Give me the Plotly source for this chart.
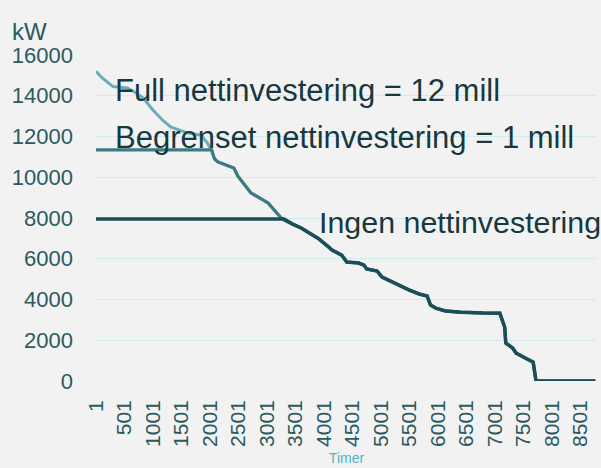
import plotly.graph_objects as go

# Hours (duration curve) and load in kW for each scenario
full_hours = [1, 100, 300, 550, 700, 830, 1000, 1165, 1310, 1610, 1840, 1950, 2030, 2080, 2140,
              2420, 2490, 2720, 3020, 3250, 3300, 3450, 3600, 3750, 3900, 4080, 4140, 4310, 4400,
              4610, 4700, 4750, 4930, 5020, 5190, 5320, 5490, 5670, 5810, 5870, 5960, 6130, 6400,
              6790, 7085, 7170, 7190, 7310, 7370, 7530, 7670, 7720, 8760]
full_kw = [15200, 14900, 14450, 14380, 14150, 13890, 13300, 12810, 12470, 12170, 12070, 11700, 11300, 10900, 10750,
           10450, 10050, 9230, 8740, 8000, 7900, 7700, 7510, 7250, 7000, 6580, 6430, 6180, 5840,
           5790, 5690, 5500, 5400, 5100, 4860, 4710, 4470, 4270, 4170, 3730, 3580, 3440, 3380,
           3340, 3330, 2650, 1860, 1620, 1370, 1130, 930, 0, 0]

begrenset_hours = [1, 2030, 2080, 2140, 2420, 2490, 2720, 3020, 3250, 3300, 3450, 3600, 3750, 3900, 4080,
                   4140, 4310, 4400, 4610, 4700, 4750, 4930, 5020, 5190, 5320, 5490, 5670, 5810, 5870,
                   5960, 6130, 6400, 6790, 7085, 7170, 7190, 7310, 7370, 7530, 7670, 7720, 8760]
begrenset_kw = [11340, 11340, 10900, 10750, 10450, 10050, 9230, 8740, 8000, 7900, 7700, 7510, 7250, 7000, 6580,
                6430, 6180, 5840, 5790, 5690, 5500, 5400, 5100, 4860, 4710, 4470, 4270, 4170, 3730,
                3580, 3440, 3380, 3340, 3330, 2650, 1860, 1620, 1370, 1130, 930, 0, 0]

ingen_hours = [1, 3300, 3450, 3600, 3750, 3900, 4080, 4140, 4310, 4400, 4610, 4700, 4750, 4930, 5020,
               5190, 5320, 5490, 5670, 5810, 5870, 5960, 6130, 6400, 6790, 7085, 7170, 7190, 7310,
               7370, 7530, 7670, 7720, 8760]
ingen_kw = [7950, 7950, 7700, 7510, 7250, 7000, 6580, 6430, 6180, 5840, 5790, 5690, 5500, 5400, 5100,
            4860, 4710, 4470, 4270, 4170, 3730, 3580, 3440, 3380, 3340, 3330, 2650, 1860, 1620,
            1370, 1130, 930, 0, 0]

x_ticks = list(range(1, 8760, 500))
x_tick_labels = [str(v) for v in x_ticks]
y_ticks = [0, 2000, 4000, 6000, 8000, 10000, 12000, 14000, 16000]
y_tick_labels = [str(v) for v in y_ticks]

labels = ["Full nettinvestering = 12 mill", "Begrenset nettinvestering = 1 mill", "Ingen nettinvestering"]

FONT = "Liberation Sans, Arial, sans-serif"
BG = "#f2f2f2"

fig = go.Figure()
fig.add_trace(go.Scatter(x=full_hours, y=full_kw, mode="lines",
                         line=dict(color="#6aadb7", width=3), name=labels[0], hoverinfo="skip"))
fig.add_trace(go.Scatter(x=begrenset_hours, y=begrenset_kw, mode="lines",
                         line=dict(color="#3c7b82", width=3.2), name=labels[1], hoverinfo="skip"))
fig.add_trace(go.Scatter(x=ingen_hours, y=ingen_kw, mode="lines",
                         line=dict(color="#1b4f56", width=3.5), name=labels[2], hoverinfo="skip"))

ann_font = dict(family=FONT, size=31, color="#17393e")
fig.add_annotation(x=0.034, xref="paper", y=14280, yref="y", text=labels[0], showarrow=False,
                   xanchor="left", yanchor="middle", font=ann_font)
fig.add_annotation(x=0.034, xref="paper", y=11975, yref="y", text=labels[1], showarrow=False,
                   xanchor="left", yanchor="middle", font=ann_font)
fig.add_annotation(x=0.441, xref="paper", y=7800, yref="y", text=labels[2], showarrow=False,
                   xanchor="left", yanchor="middle", font=dict(family=FONT, size=30.4, color="#17393e"))
fig.add_annotation(x=-0.172, xref="paper", y=1.025, yref="paper", text="kW", showarrow=False,
                   xanchor="left", yanchor="bottom",
                   font=dict(family=FONT, size=24, color="#2b5a61"))

fig.update_layout(
    width=601, height=468,
    margin=dict(l=96, r=4, t=55, b=87),
    paper_bgcolor=BG, plot_bgcolor=BG,
    showlegend=False,
    font=dict(family=FONT, color="#2b5a61"),
    xaxis=dict(range=[1, 8790], tickvals=x_ticks, ticktext=x_tick_labels, tickangle=-90,
               showgrid=False, zeroline=False, showline=False, ticks="",
               tickfont=dict(family=FONT, size=21, color="#2b5a61"), ticklabelstandoff=14,
               title=dict(text="Timer", font=dict(family=FONT, size=14, color="#4fb4c6"), standoff=7)),
    yaxis=dict(range=[0, 16000], tickvals=y_ticks, ticktext=y_tick_labels, showgrid=True,
               gridcolor="#d2ebf1", gridwidth=1, zeroline=False, showline=False, ticks="",
               tickfont=dict(family=FONT, size=22, color="#2b5a61"), ticklabelstandoff=22),
)

fig.write_html("out.html", config={"displayModeBar": False},
               post_script="document.body.style.margin='0';document.body.style.background='%s';" % BG)
